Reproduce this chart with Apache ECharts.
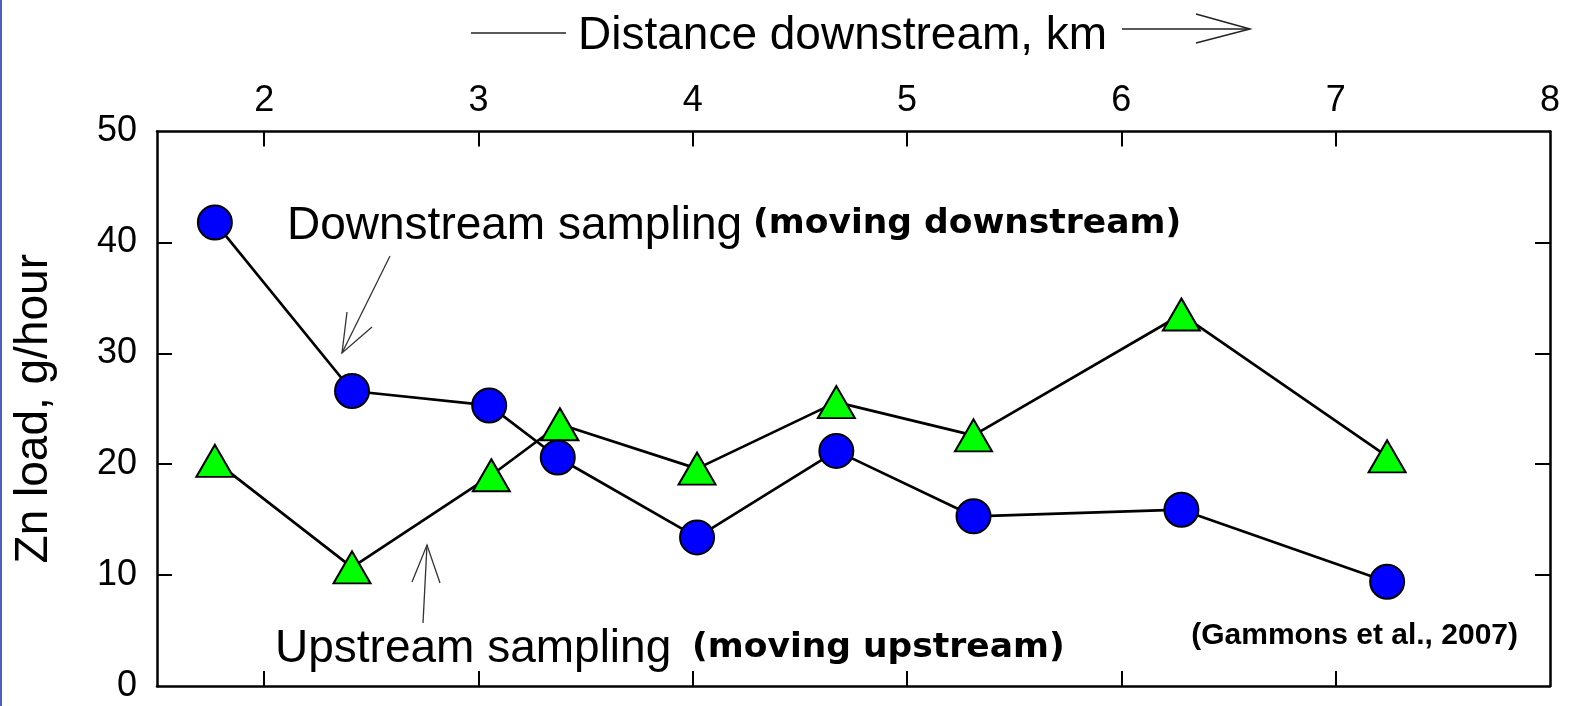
<!DOCTYPE html>
<html>
<head>
<meta charset="utf-8">
<script src="https://cdn.jsdelivr.net/npm/echarts@6/dist/echarts.min.js"></script>
<style>
html,body{margin:0;padding:0;background:#fff;}
#chart{width:1585px;height:706px;}
</style>
</head>
<body>
<div id="chart"></div>
<script>
// ---- data ----
const downstreamKm   = [1.77, 2.41, 3.05, 3.37, 4.02, 4.67, 5.31, 6.28, 7.24];
const downstreamLoad = [41.8, 26.6, 25.3, 20.6, 13.4, 21.2, 15.3, 15.9, 9.4];
const upstreamKm     = [1.77, 2.41, 3.06, 3.38, 4.02, 4.67, 5.31, 6.28, 7.24];
const upstreamLoad   = [20.3, 10.7, 19.0, 23.6, 19.6, 25.6, 22.6, 33.5, 20.7];
const xTickValues = [2, 3, 4, 5, 6, 7, 8];
const yTickValues = [0, 10, 20, 30, 40, 50];
const xTitle = 'Distance downstream, km';
const yTitle = 'Zn load, g/hour';
const downLabel = 'Downstream sampling';
const downNote = '(moving downstream)';
const upLabel = 'Upstream sampling';
const upNote = '(moving upstream)';
const citation = '(Gammons et al., 2007)';

const FONT = '"Liberation Sans", Arial, sans-serif';
const NOTE_FONT = '"DejaVu Sans", sans-serif';

const chart = echarts.init(document.getElementById('chart'), null, {renderer: 'canvas'});

const axisLineStyle = {color: '#000', width: 2.5};
const tickStyle = {color: '#000', width: 2};

function pairs(xs, ys) { return xs.map((x, i) => [x, ys[i]]); }

const option = {
  backgroundColor: '#fff',
  animation: false,
  title: {
    text: xTitle,
    left: 573, top: 8,
    textStyle: {fontFamily: FONT, fontSize: 46, fontWeight: 'normal', color: '#000'}
  },
  grid: {left: 157, right: 35, top: 131.5, bottom: 20, containLabel: false},
  xAxis: [
    {
      type: 'value', position: 'top', min: 1.5, max: 8, interval: 0.5,
      axisLine: {show: true, onZero: false, lineStyle: axisLineStyle},
      axisTick: {show: true, inside: true, length: 15, lineStyle: tickStyle, customValues: [2, 3, 4, 5, 6, 7]},
      axisLabel: {show: true, customValues: xTickValues, fontFamily: FONT, fontSize: 36, color: '#000', margin: 12},
      splitLine: {show: false}
    },
    {
      type: 'value', position: 'bottom', min: 1.5, max: 8, interval: 0.5,
      axisLine: {show: true, onZero: false, lineStyle: axisLineStyle},
      axisTick: {show: true, inside: true, length: 15, lineStyle: tickStyle, customValues: [2, 3, 4, 5, 6, 7]},
      axisLabel: {show: false},
      splitLine: {show: false}
    }
  ],
  yAxis: [
    {
      type: 'value', position: 'left', min: 0, max: 50, interval: 10,
      name: yTitle, nameLocation: 'middle', nameRotate: 90, nameGap: 100,
      nameTextStyle: {fontFamily: FONT, fontSize: 46, color: '#000'},
      axisLine: {show: true, onZero: false, lineStyle: axisLineStyle},
      axisTick: {show: true, inside: true, length: 15, lineStyle: tickStyle, customValues: [10, 20, 30, 40]},
      axisLabel: {show: true, fontFamily: FONT, fontSize: 36, color: '#000', margin: 20,
        customValues: yTickValues},
      splitLine: {show: false}
    },
    {
      type: 'value', position: 'right', min: 0, max: 50, interval: 10,
      axisLine: {show: true, onZero: false, lineStyle: axisLineStyle},
      axisTick: {show: true, inside: true, length: 15, lineStyle: tickStyle, customValues: [10, 20, 30, 40]},
      axisLabel: {show: false},
      splitLine: {show: false}
    }
  ],
  series: [
    {
      name: 'Upstream sampling', type: 'line', xAxisIndex: 0, yAxisIndex: 0,
      data: pairs(upstreamKm, upstreamLoad),
      symbol: 'triangle', symbolSize: [37, 32],
      itemStyle: {color: '#00ff00', borderColor: '#000', borderWidth: 2},
      lineStyle: {color: '#000', width: 2.7},
      z: 2
    },
    {
      name: 'Downstream sampling', type: 'line', xAxisIndex: 0, yAxisIndex: 0,
      data: pairs(downstreamKm, downstreamLoad),
      symbol: 'circle', symbolSize: 34,
      itemStyle: {color: '#0000ff', borderColor: '#000', borderWidth: 2},
      lineStyle: {color: '#000', width: 2.7},
      z: 3
    }
  ],
  graphic: [
    {type: 'rect', left: 0, top: 0, shape: {width: 2, height: 706}, style: {fill: '#4a62c8'}, silent: true},
    // title arrows
    {type: 'line', shape: {x1: 471, y1: 33, x2: 566, y2: 33}, style: {stroke: '#222', lineWidth: 1.5}},
    {type: 'line', shape: {x1: 1122, y1: 29, x2: 1250, y2: 29}, style: {stroke: '#222', lineWidth: 1.5}},
    {type: 'polyline', shape: {points: [[1196, 14], [1250, 29], [1196, 43]]}, style: {stroke: '#222', lineWidth: 1.5, fill: null}},
    // downstream annotation arrow
    {type: 'line', shape: {x1: 390, y1: 256, x2: 342, y2: 353}, style: {stroke: '#333', lineWidth: 1.3}},
    {type: 'polyline', shape: {points: [[347, 312], [342, 353], [372, 327]]}, style: {stroke: '#333', lineWidth: 1.3, fill: null}},
    // upstream annotation arrow
    {type: 'line', shape: {x1: 423, y1: 623, x2: 427, y2: 545}, style: {stroke: '#333', lineWidth: 1.3}},
    {type: 'polyline', shape: {points: [[412, 582], [427, 545], [440, 583]]}, style: {stroke: '#333', lineWidth: 1.3, fill: null}},
    // annotation texts
    {type: 'text', left: 287, top: 203, style: {text: downLabel, font: '46px ' + FONT, fill: '#000'}},
    {type: 'text', left: 753, top: 207, style: {text: downNote, font: 'bold 34.5px ' + NOTE_FONT, fill: '#000'}},
    {type: 'text', left: 275, top: 626, style: {text: upLabel, font: '46px ' + FONT, fill: '#000'}},
    {type: 'text', left: 692, top: 631, style: {text: upNote, font: 'bold 34.5px ' + NOTE_FONT, fill: '#000'}},
    {type: 'text', right: 67, top: 621, style: {text: citation, font: 'bold 30px ' + FONT, fill: '#000'}}
  ]
};
chart.setOption(option);
</script>
</body>
</html>
